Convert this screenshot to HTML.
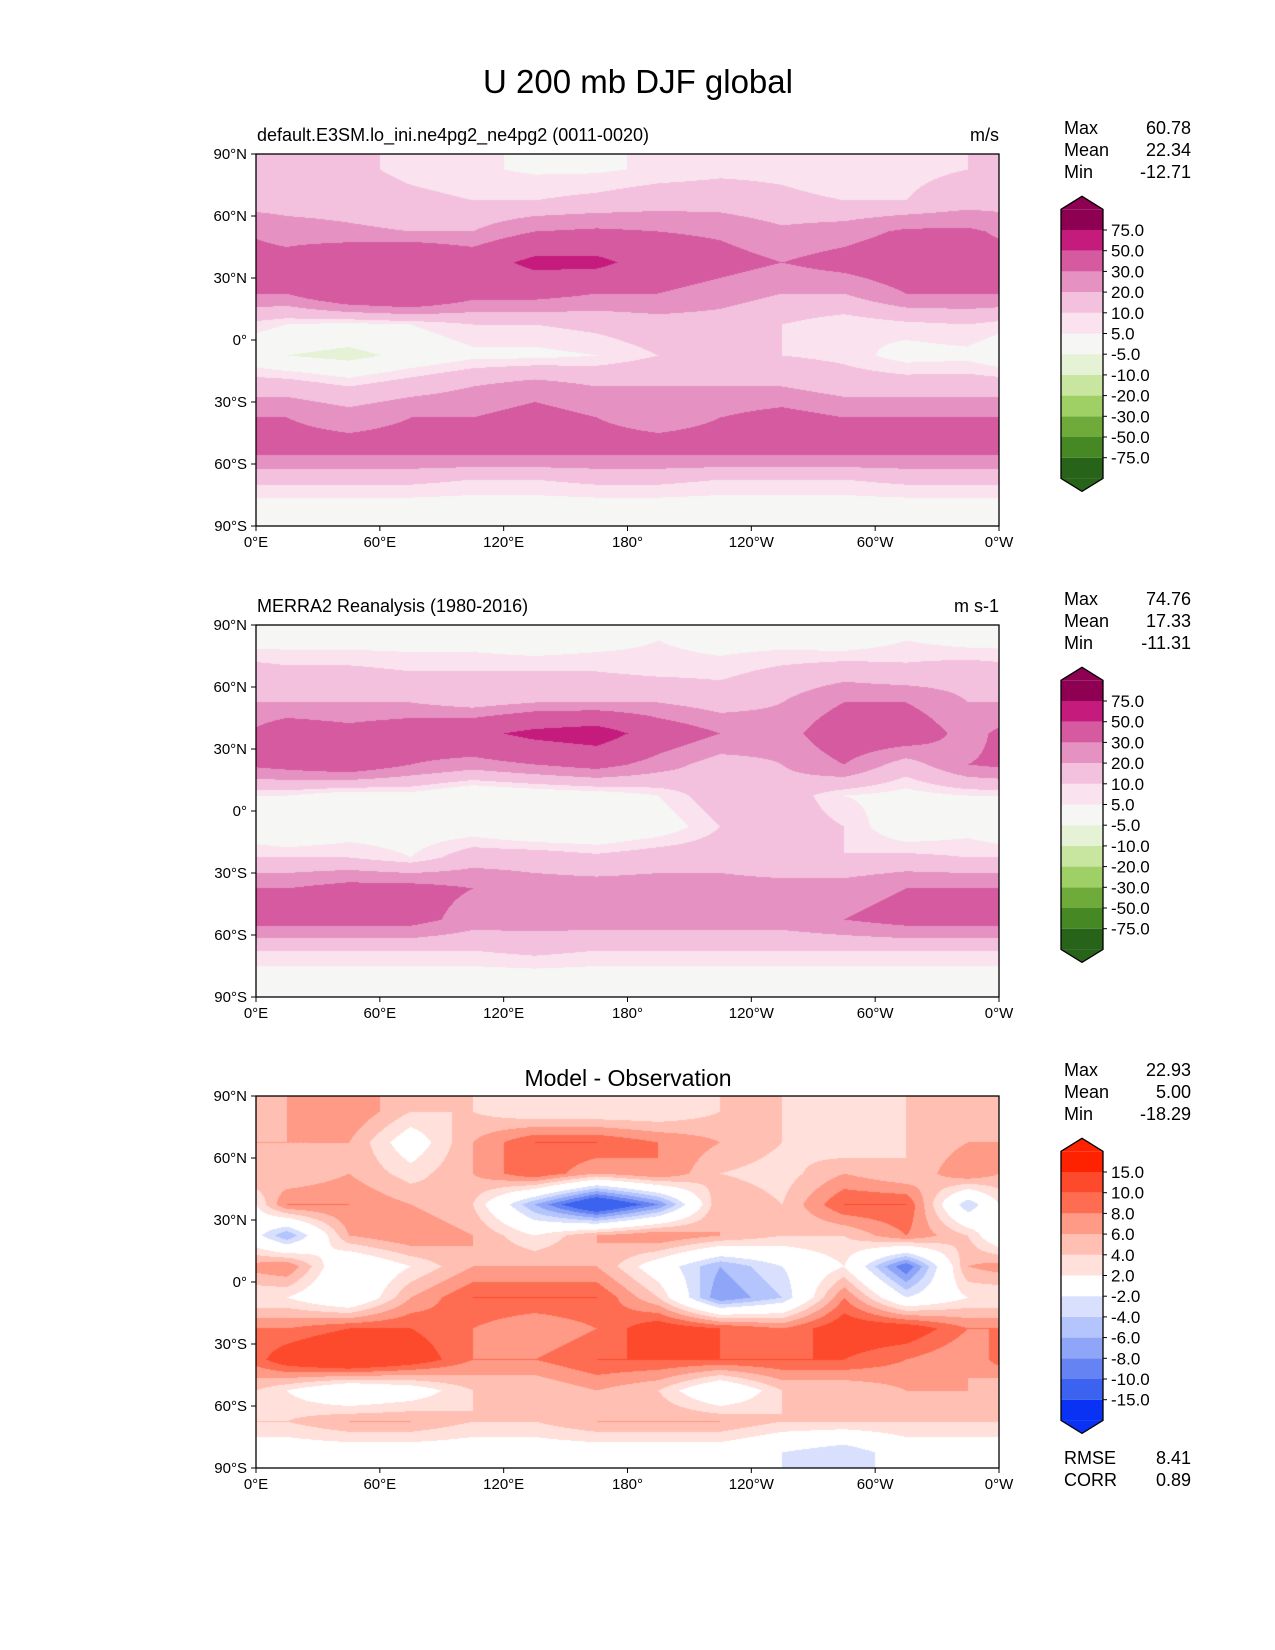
<!DOCTYPE html>
<html><head><meta charset="utf-8">
<style>
body{margin:0;background:#fff;}
#wrap{position:relative;width:1275px;height:1650px;font-family:"Liberation Sans","DejaVu Sans",sans-serif;}
canvas{position:absolute;}
svg{position:absolute;left:0;top:0;}
</style></head><body>
<div id="wrap">
<canvas id="c0" width="743" height="372" style="left:256px;top:154px"></canvas>
<canvas id="c1" width="743" height="372" style="left:256px;top:625px"></canvas>
<canvas id="c2" width="743" height="372" style="left:256px;top:1096px"></canvas>
<svg id="s" width="1275" height="1650"></svg>
</div>
<script>
const lonCats=[0,30,60,90,120,150,180,210,240,270,300,330];
const latCats=[82.5,67.5,52.5,37.5,22.5,7.5,-7.5,-22.5,-37.5,-52.5,-67.5,-82.5];
const modelVals=[
[12,12,8,6,4,4,6,8,8,5,8,10],
[15,15,12,10,10,12,15,15,12,10,10,15],
[25,22,20,20,30,32,30,28,22,25,32,32],
[35,45,50,40,55,55,40,35,30,35,40,35],
[30,45,50,35,35,30,30,25,20,20,30,30],
[5,3,5,10,10,12,15,15,10,5,8,10],
[-5,-8,-2,3,3,5,10,12,10,8,2,3],
[15,10,15,20,25,20,20,20,20,15,15,15],
[30,25,30,30,35,30,25,30,35,30,30,30],
[35,35,35,35,35,35,35,35,35,35,35,35],
[12,12,12,10,10,12,12,10,10,10,12,12],
[0,0,0,0,0,0,0,0,0,0,0,0]];
const obsVals=[
[2,2,2,2,0,2,5,2,2,0,5,2],
[12,12,10,10,10,10,8,8,12,15,12,15],
[20,20,20,15,20,20,20,15,20,30,30,20],
[40,35,40,45,55,60,40,30,25,40,40,25],
[35,40,30,25,30,35,25,15,20,30,15,30],
[5,0,2,-5,-2,0,5,15,15,5,2,5],
[-5,0,0,0,-5,-5,0,10,15,10,-2,2],
[10,10,5,15,15,12,15,15,10,10,12,10],
[30,35,35,30,25,25,25,25,25,25,30,30],
[35,35,35,25,25,25,25,25,25,30,35,35],
[10,10,10,10,12,10,10,10,10,10,10,10],
[0,0,0,0,0,0,0,0,0,0,0,0]];
const diffVals=[
[6,8,4,4,2,2,2,4,4,2,4,4],
[6,6,0,6,10,10,8,6,4,2,4,6],
[4,6,3,6,10,6,8,4,3,6,4,8],
[8,8,6,4,-6,-15,-8,6,4,10,10,-4],
[-6,6,8,6,2,6,8,6,4,4,8,4],
[8,-2,2,6,6,6,0,-6,-2,2,-10,6],
[2,-2,6,10,10,10,4,-8,-4,8,-2,2],
[8,10,10,8,6,8,12,10,8,12,12,8],
[12,15,12,8,8,10,10,10,10,10,8,6],
[2,-2,0,4,4,6,4,-2,4,4,6,6],
[4,6,6,4,4,6,6,6,4,4,4,4],
[0,0,0,0,0,0,0,0,-2,-4,0,0]];
const levA=[-75,-50,-30,-20,-10,-5,5,10,20,30,50,75];
const levB=[-15,-10,-8,-6,-4,-2,2,4,6,8,10,15];
const labA=["-75.0","-50.0","-30.0","-20.0","-10.0","-5.0","5.0","10.0","20.0","30.0","50.0","75.0"];
const labB=["-15.0","-10.0","-8.0","-6.0","-4.0","-2.0","2.0","4.0","6.0","8.0","10.0","15.0"];
const colA=["#276419","#468824","#6fab3b","#9fd066","#c8e6a0","#e6f2d6","#f6f6f4","#fae2ef","#f3c1dd","#e592c2","#d55aa0","#c51b7d","#8e0152"];
const colB=["#0a32f5","#3c62f0","#6683f3","#8fa6f8","#b4c4fc","#d8e0fe","#ffffff","#ffe0da","#ffbfb3","#fe9a85","#fe6c52","#fe4a2c","#fe2200"];
const xTicks=["0°E","60°E","120°E","180°","120°W","60°W","0°W"];
const yTicks=["90°N","60°N","30°N","0°","30°S","60°S","90°S"];
const stats=[["60.78","22.34","-12.71"],["74.76","17.33","-11.31"],["22.93","5.00","-18.29"]];

const W=743,H=372;
function hex(c){return [parseInt(c.substr(1,2),16),parseInt(c.substr(3,2),16),parseInt(c.substr(5,2),16)];}
function sample(g,lon,lat){
  let fi=(lon-15)/30; let i0=Math.floor(fi), t=fi-i0;
  let a0=((i0%12)+12)%12, a1=(a0+1)%12;
  let fj=(82.5-lat)/15; fj=Math.max(0,Math.min(11,fj)); let j0=Math.min(10,Math.floor(fj)), u=fj-j0;
  let v00=g[j0][a0],v01=g[j0][a1],v10=g[j0+1][a0],v11=g[j0+1][a1];
  return (v00*(1-t)+v01*t)*(1-u)+(v10*(1-t)+v11*t)*u;
}
function draw(id,g,lev,col){
  const cv=document.getElementById(id),ctx=cv.getContext('2d');
  const im=ctx.createImageData(W,H);const rgb=col.map(hex);
  for(let y=0;y<H;y++){const lat=90-(y+0.5)/H*180;
    for(let x=0;x<W;x++){const lon=(x+0.5)/W*360;const v=sample(g,lon,lat);
      let k=0;while(k<lev.length&&v>=lev[k])k++;
      const c=rgb[k],p=(y*W+x)*4;im.data[p]=c[0];im.data[p+1]=c[1];im.data[p+2]=c[2];im.data[p+3]=255;}}
  ctx.putImageData(im,0,0);
}
draw('c0',modelVals,levA,colA);
draw('c1',obsVals,levA,colA);
draw('c2',diffVals,levB,colB);

const S=document.getElementById('s');const NS="http://www.w3.org/2000/svg";
function el(tag,at,txt){const e=document.createElementNS(NS,tag);for(const k in at)e.setAttribute(k,at[k]);if(txt!==undefined)e.textContent=txt;S.appendChild(e);return e;}
let t=el('text',{x:638,y:93,'font-size':33,'text-anchor':'middle'},"U 200 mb DJF global");


const tops=[154,625,1096];
const subs=[["default.E3SM.lo_ini.ne4pg2_ne4pg2 (0011-0020)","m/s"],["MERRA2 Reanalysis (1980-2016)","m s-1"],[null,null]];
tops.forEach((T,p)=>{
  let r=el('rect',{x:256,y:T,width:W,height:H,fill:'none',stroke:'#000','stroke-width':1.3});
  
  
  xTicks.forEach((s,i)=>{const x=256+i/6*W;
    el('line',{x1:x,y1:T+H,x2:x,y2:T+H+5,stroke:'#000'});
    const tt=el('text',{x:x,y:T+H+21,'font-size':15,'text-anchor':'middle'},s);
    
    });
  yTicks.forEach((s,i)=>{const y=T+i/6*H;
    el('line',{x1:251,y1:y,x2:256,y2:y,stroke:'#000'});
    const tt=el('text',{x:247,y:y+5,'font-size':15,'text-anchor':'end'},s);
    
    });
  if(subs[p][0]){
    const a=el('text',{x:257,y:T-13,'font-size':18},subs[p][0]);
    
    
    const b=el('text',{x:999,y:T-13,'font-size':18,'text-anchor':'end'},subs[p][1]);
    
    
  } else {
    const a=el('text',{x:628,y:T-10,'font-size':23,'text-anchor':'middle'},"Model - Observation");
    
    
  }
  const sy=[128,150,172].map(v=>v+(p==0?0:p==1?471:942));
  ["Max","Mean","Min"].forEach((n,i)=>{
    const a=el('text',{x:1064,y:sy[i]+6,'font-size':18},n);
    
    
    const b=el('text',{x:1191,y:sy[i]+6,'font-size':18,'text-anchor':'end'},stats[p][i]);
    
    });
  const off=p==0?0:p==1?471:942;const cols=p<2?colA:colB;const labs=p<2?labA:labB;
  const bx=1061,bw=42,b0=230+off,step=20.7;
  const yTop=b0-step,yBot=b0+11*step+step;
  cols.forEach((c,i)=>{const k=12-i;
    let y0=b0+(k-1)*step, y1=y0+step;
    if(i==12){y0=yTop;} if(i==0){y1=yBot;}
    const rr=el('rect',{x:bx,y:y0,width:bw,height:y1-y0,fill:c});
    
    });
  el('polygon',{points:`${bx},${yTop} ${bx+bw/2},${yTop-13} ${bx+bw},${yTop}`,fill:cols[12]});
  el('polygon',{points:`${bx},${yBot} ${bx+bw/2},${yBot+13} ${bx+bw},${yBot}`,fill:cols[0]});
  el('polygon',{points:`${bx},${yTop} ${bx+bw/2},${yTop-13} ${bx+bw},${yTop} ${bx+bw},${yBot} ${bx+bw/2},${yBot+13} ${bx},${yBot}`,fill:'none',stroke:'#000','stroke-width':1.3});
  labs.forEach((s,i)=>{const y=b0+(11-i)*step;
    el('line',{x1:bx+bw,y1:y,x2:bx+bw+4,y2:y,stroke:'#000'});
    const tt=el('text',{x:bx+bw+8,y:y+6,'font-size':17},s);
    
    });
});
[["RMSE","8.41",1458],["CORR","0.89",1480]].forEach(r=>{
  const a=el('text',{x:1064,y:r[2]+6,'font-size':18},r[0]);
  
  
  const b=el('text',{x:1191,y:r[2]+6,'font-size':18,'text-anchor':'end'},r[1]);
  
  });
</script>
</body></html>
